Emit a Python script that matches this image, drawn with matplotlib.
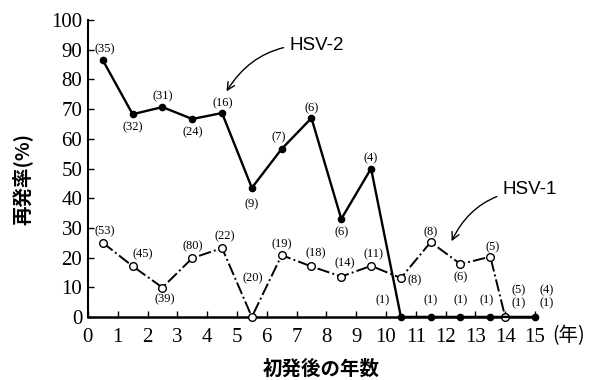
import matplotlib.pyplot as plt

plt.rcParams['font.family'] = ['Noto Sans CJK JP', 'DejaVu Sans']

# data
hsv2_x = [0.5, 1.5, 2.5, 3.5, 4.5, 5.5, 6.5, 7.5, 8.5, 9.5, 10.5, 11.5, 12.5, 13.5, 15]
hsv2_y = [86.5, 68.3, 70.7, 66.7, 68.7, 43.5, 56.6, 67, 33, 50, 0, 0, 0, 0, 0]
hsv1_x = [0.5, 1.5, 2.5, 3.5, 4.5, 5.5, 6.5, 7.5, 8.5, 9.5, 10.5, 11.5, 12.5, 13.5, 14]
hsv1_y = [25, 17.1, 9.9, 19.8, 23.2, 0, 20.8, 17, 13.6, 17.2, 13.1, 25.2, 17.8, 20.3, 0]

# case counts per year (1..15)
hsv2_n = [35, 32, 31, 24, 16, 9, 7, 6, 6, 4, 1, 1, 1, 1, 1, 1]
hsv1_n = [53, 45, 39, 80, 22, 20, 19, 18, 14, 11, 8, 8, 6, 5, 5, 4]

# label offsets in pixels (dx, dy)
hsv2_off = [(2, 11), (0, -13), (0, 11), (1, -13), (1, 10), (0, -16), (-3, 12), (0, 10),
            (0, -13), (0, 10), (-18, 17), (0, 17), (0, 17), (-4, 17)]
hsv1_off = [(2, 11), (10, 12), (2, -12), (1, 12), (3, 12), (1, 39), (0, 11), (4, 13),
            (3, 13), (2, 12), (14, -2), (0, 10), (0, -13), (2, 9)]

fig = plt.figure(figsize=(5.94, 3.8), dpi=100)
ax = fig.add_axes([0.148, 0.166, 0.7527, 0.781])

ax.plot(hsv1_x, hsv1_y, color='black', lw=1.4, ls='-.', marker='o', ms=5.5,
        mfc='white', mec='black', mew=1.0, clip_on=False, zorder=3)
ax.plot(hsv2_x, hsv2_y, color='black', lw=1.7, ls='-', marker='o', ms=4.5,
        mfc='black', mec='black', clip_on=False, zorder=4)

lab = dict(fontsize=9, family='Liberation Serif', ha='center', va='center')
for i in range(14):
    ax.annotate('(%d)' % hsv2_n[i], (hsv2_x[i], hsv2_y[i]), xytext=hsv2_off[i],
                textcoords='offset pixels', **lab)
    ax.annotate('(%d)' % hsv1_n[i], (hsv1_x[i], hsv1_y[i]), xytext=hsv1_off[i],
                textcoords='offset pixels', **lab)
ax.text(14.45, 9.1, '(%d)' % hsv1_n[14], clip_on=False, **lab)
ax.text(15.4, 9.1, '(%d)' % hsv1_n[15], clip_on=False, **lab)
ax.text(14.45, 4.7, '(%d)' % hsv2_n[14], clip_on=False, **lab)
ax.text(15.4, 4.7, '(%d)' % hsv2_n[15], clip_on=False, **lab)

ax.annotate('HSV-2', xy=(4.65, 76), xytext=(6.75, 91.6), fontsize=13.5,
            family='Liberation Sans', ha='left', va='center',
            arrowprops=dict(arrowstyle='->', color='black', lw=1.0,
                            connectionstyle='arc3,rad=0.3', shrinkA=2, shrinkB=0))
ax.annotate('HSV-1', xy=(12.2, 25.5), xytext=(13.9, 42.8), fontsize=13.5,
            family='Liberation Sans', ha='left', va='center',
            arrowprops=dict(arrowstyle='->', color='black', lw=1.0,
                            connectionstyle='arc3,rad=0.3', shrinkA=2, shrinkB=0))

ax.set_xlim(0, 15)
ax.set_ylim(0, 100)
ax.set_xticks(range(16))
ax.set_yticks(range(0, 101, 10))
ax.tick_params(direction='in', length=4, width=1, labelsize=15)
ax.tick_params(axis='x', pad=8)
ax.tick_params(axis='y', pad=4)
for t in ax.get_xticklabels() + ax.get_yticklabels():
    t.set_family('Liberation Serif')
ax.spines['top'].set_visible(False)
ax.spines['right'].set_visible(False)
ax.spines['left'].set_linewidth(1.5)
ax.spines['bottom'].set_linewidth(1.8)

fig.text(0.957, 0.118, '(年)', fontsize=14, ha='center', va='center')
fig.text(0.54, 0.028, '初発後の年数', fontsize=14, ha='center', va='center',
         fontweight='bold')
fig.text(0.037, 0.53, '再発率(%)', fontsize=14, ha='center', va='center',
         rotation=90, fontweight='bold')

fig.savefig('out.png', dpi=100)
